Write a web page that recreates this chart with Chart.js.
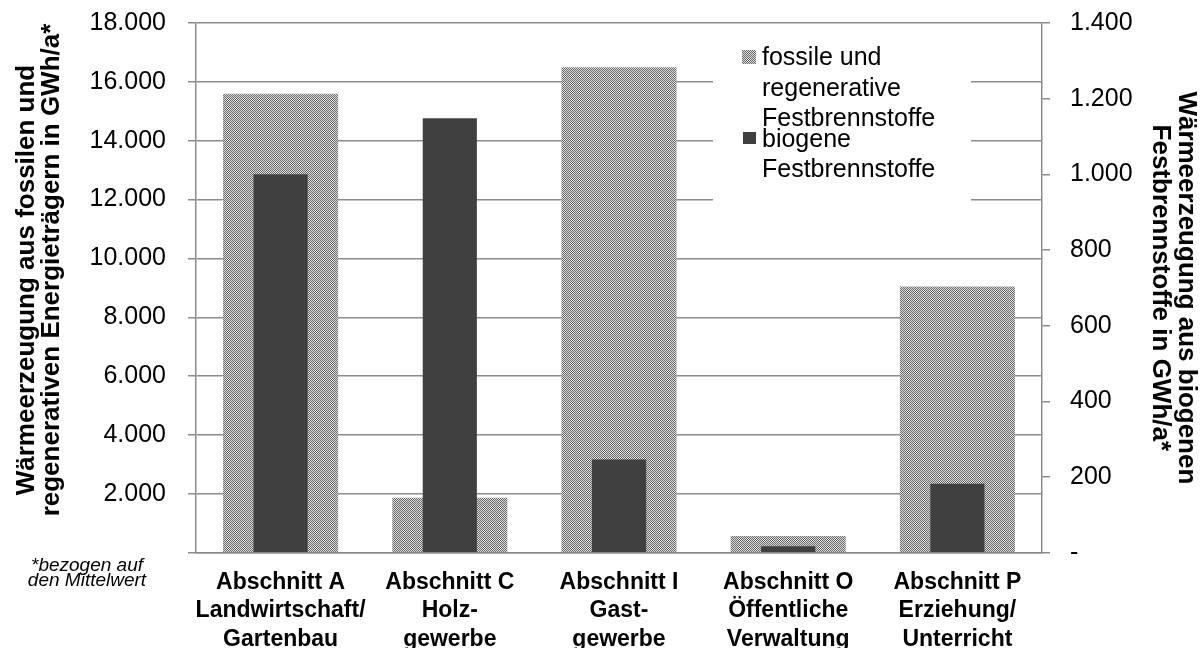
<!DOCTYPE html>
<html>
<head>
<meta charset="utf-8">
<script src="https://cdn.jsdelivr.net/npm/chart.js@4.4.1/dist/chart.umd.min.js"></script>
<style>
  html, body { margin: 0; padding: 0; background: #fff; }
  #wrap { width: 1204px; height: 648px; position: relative; }
</style>
</head>
<body>
<div id="wrap"><canvas id="chart" width="1204" height="648"></canvas></div>
<script>
// Daten
const categories = [
  ['Abschnitt A', 'Landwirtschaft/', 'Gartenbau'],
  ['Abschnitt C', 'Holz-', 'gewerbe'],
  ['Abschnitt I', 'Gast-', 'gewerbe'],
  ['Abschnitt O', 'Öffentliche', 'Verwaltung'],
  ['Abschnitt P', 'Erziehung/', 'Unterricht']
];
const fossilValues = [15600, 1870, 16500, 570, 9050];   // linke Achse
const biogenValues = [1000, 1148, 246, 17, 182];        // rechte Achse

const leftMax = 18000, leftStep = 2000;
const rightMax = 1400, rightStep = 200;

const leftTitle = ['Wärmeerzeugung aus fossilen und', 'regenerativen Energieträgern in GWh/a*'];
const rightTitle = ['Wärmeerzeugung aus biogenen', 'Festbrennstoffe in GWh/a*'];
const legendFossil = ['fossile und', 'regenerative', 'Festbrennstoffe'];
const legendBiogen = ['biogene', 'Festbrennstoffe'];
const footnote = ['*bezogen auf', 'den Mittelwert'];

const FONT = '"Liberation Sans", Arial, sans-serif';
const gridGray = '#8c8c8c';
const darkGray = '#404040';

// Schachbrett-Muster für die grauen Balken
function makeChecker() {
  const c = document.createElement('canvas');
  c.width = 2; c.height = 2;
  const x = c.getContext('2d');
  x.fillStyle = '#dadada'; x.fillRect(0, 0, 2, 2);
  x.fillStyle = '#6c6c6c'; x.fillRect(0, 0, 1, 1); x.fillRect(1, 1, 1, 1);
  return document.getElementById('chart').getContext('2d').createPattern(c, 'repeat');
}
const checker = makeChecker();

// Tausenderpunkt
function fmt(v) {
  return String(v).replace(/\B(?=(\d{3})+(?!\d))/g, '.');
}

// Linker Achsentitel, Legende und Fußnote selbst zeichnen
const overlayPlugin = {
  id: 'overlay',
  afterDraw(chart) {
    const ctx = chart.ctx;
    ctx.save();

    // linker Achsentitel (gedreht)
    ctx.fillStyle = '#000';
    ctx.font = 'bold 26px ' + FONT;
    ctx.textAlign = 'center';
    ctx.textBaseline = 'middle';
    [[27, 280], [52, 270]].forEach(([x, y], i) => {
      ctx.save();
      ctx.translate(x, y);
      ctx.rotate(-Math.PI / 2);
      ctx.fillText(leftTitle[i], 0, 0);
      ctx.restore();
    });

    // Legende
    ctx.fillStyle = '#fff';
    ctx.fillRect(713, 34, 258, 196);
    ctx.fillStyle = checker;
    ctx.fillRect(742, 50, 14, 14);
    ctx.fillStyle = darkGray;
    ctx.fillRect(743, 132, 13, 12);

    ctx.fillStyle = '#000';
    ctx.font = '25px ' + FONT;
    ctx.textAlign = 'left';
    ctx.textBaseline = 'alphabetic';
    legendFossil.forEach((t, i) => ctx.fillText(t, 762, 65 + i * 30.5));
    legendBiogen.forEach((t, i) => ctx.fillText(t, 762, 147 + i * 29.5));

    // Fußnote
    ctx.font = 'italic 19px ' + FONT;
    ctx.textAlign = 'center';
    footnote.forEach((t, i) => ctx.fillText(t, 87, 571 + i * 15));
    ctx.restore();
  }
};

new Chart(document.getElementById('chart'), {
  type: 'bar',
  data: {
    labels: categories,
    datasets: [
      {
        label: 'fossile und regenerative Festbrennstoffe',
        data: fossilValues,
        yAxisID: 'y',
        backgroundColor: checker,
        barPercentage: 0.68,
        categoryPercentage: 1,
        grouped: false,
        order: 2
      },
      {
        label: 'biogene Festbrennstoffe',
        data: biogenValues,
        yAxisID: 'y1',
        backgroundColor: darkGray,
        barPercentage: 0.32,
        categoryPercentage: 1,
        grouped: false,
        order: 1
      }
    ]
  },
  options: {
    responsive: false,
    animation: false,
    layout: { padding: { top: 23, left: 0, right: 0, bottom: 0 } },
    plugins: {
      legend: { display: false },
      tooltip: { enabled: false }
    },
    scales: {
      x: {
        grid: { display: false },
        border: { display: true, color: gridGray, width: 1.5 },
        ticks: {
          color: '#000',
          padding: 8,
          maxRotation: 0,
          autoSkip: false,
          font: { family: FONT, size: 23, weight: 'bold', lineHeight: 1.23 }
        },
        afterFit(scale) { scale.height = 95.3; }
      },
      y: {
        position: 'left',
        min: 0,
        max: leftMax,
        grid: { color: gridGray, lineWidth: 1.5, tickLength: 8, tickColor: gridGray },
        border: { color: gridGray, width: 1.5 },
        ticks: {
          stepSize: leftStep,
          color: '#000',
          padding: 22,
          font: { family: FONT, size: 25 },
          callback: (v) => v === 0 ? '' : fmt(v)
        },
        afterFit(scale) {
          scale.width = 196;
          scale.paddingTop = 0;
          scale.paddingBottom = 0;
        }
      },
      y1: {
        position: 'right',
        min: 0,
        max: rightMax,
        grid: { drawOnChartArea: false, color: gridGray, lineWidth: 1.5, tickLength: 8 },
        border: { color: gridGray, width: 1.5 },
        ticks: {
          stepSize: rightStep,
          color: '#000',
          padding: 20,
          font: { family: FONT, size: 25 },
          callback: (v) => v === 0 ? '-' : fmt(v)
        },
        title: {
          display: true,
          text: rightTitle,
          color: '#000',
          padding: { top: 4, bottom: 0 },
          font: { family: FONT, size: 26, weight: 'bold', lineHeight: 1.03 }
        },
        afterFit(scale) {
          scale.width = 162;
          scale.paddingTop = 0;
          scale.paddingBottom = 0;
        }
      }
    }
  },
  plugins: [overlayPlugin]
});
</script>
</body>
</html>
